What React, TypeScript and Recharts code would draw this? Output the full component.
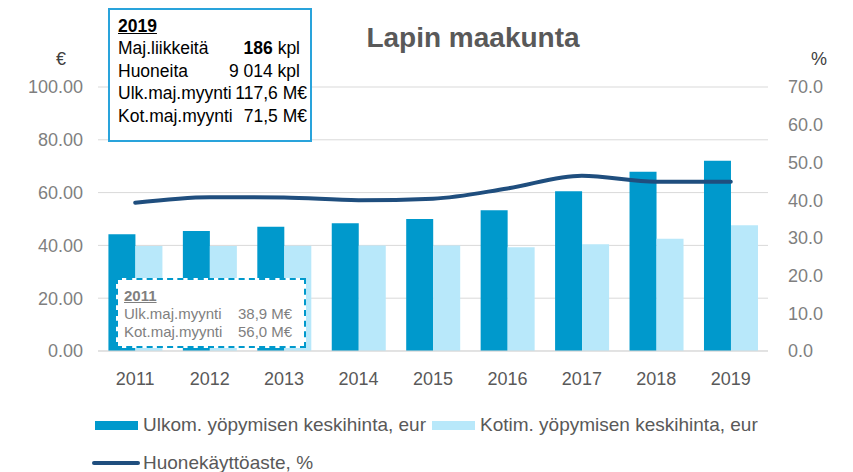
import React from "react";
import {
  ComposedChart,
  Bar,
  Line,
  XAxis,
  YAxis,
  CartesianGrid,
} from "recharts";

const years = ["2011", "2012", "2013", "2014", "2015", "2016", "2017", "2018", "2019"];
const foreignPrice = [44.2, 45.5, 47.1, 48.4, 50.0, 53.3, 60.5, 67.9, 72.1];
const domesticPrice = [39.8, 39.8, 39.9, 40.0, 40.0, 39.3, 40.4, 42.5, 47.6];
const occupancy = [39.3, 40.8, 40.7, 40.0, 40.4, 43.1, 46.5, 44.9, 44.9];

const leftTicks = [0, 20, 40, 60, 80, 100];
const rightTicks = [0, 10, 20, 30, 40, 50, 60, 70];

const seriesNames = [
  "Ulkom. yöpymisen keskihinta, eur",
  "Kotim. yöpymisen keskihinta, eur",
  "Huonekäyttöaste, %",
];

const box2019 = [
  { label: "Maj.liikkeitä", bold: "186", unit: " kpl" },
  { label: "Huoneita", bold: "", unit: "9 014 kpl" },
  { label: "Ulk.maj.myynti", bold: "", unit: "117,6 M€" },
  { label: "Kot.maj.myynti", bold: "", unit: "71,5 M€" },
];

const box2011 = [
  { label: "Ulk.maj.myynti", value: "38,9 M€" },
  { label: "Kot.maj.myynti", value: "56,0 M€" },
];

const data = years.map((year, i) => ({
  year,
  ulk: foreignPrice[i],
  kot: domesticPrice[i],
  kaytto: occupancy[i],
}));

const FONT = "'Liberation Sans', Arial, sans-serif";
const DARK = "#0099cc";
const LIGHT = "#b8e8fa";
const NAVY = "#1f4e7e";
const GRAY = "#7f7f7f";

export default function App() {
  return (
    <div
      style={{
        position: "absolute",
        left: 0,
        top: 0,
        width: 853,
        height: 472,
        background: "#fff",
        fontFamily: FONT,
        overflow: "hidden",
      }}
    >
      <ComposedChart
        width={853}
        height={472}
        data={data}
        margin={{ top: 87, right: 25, left: 38, bottom: 91 }}
        barCategoryGap="14%"
        barGap={0}
      >
        <CartesianGrid yAxisId="left" vertical={false} stroke="#d9d9d9" />
        <XAxis
          dataKey="year"
          axisLine={{ stroke: "#d9d9d9" }}
          tickLine={false}
          tickSize={0}
          tickMargin={21}
          height={30}
          tick={{ fill: "#595959", fontSize: 18, fontFamily: FONT }}
        />
        <YAxis
          yAxisId="left"
          domain={[0, 100]}
          ticks={leftTicks}
          width={60}
          axisLine={false}
          tickLine={false}
          tickSize={0}
          tickMargin={15}
          tickFormatter={(v: number) => v.toFixed(2)}
          tick={{ fill: GRAY, fontSize: 18, fontFamily: FONT }}
        />
        <YAxis
          yAxisId="right"
          orientation="right"
          domain={[0, 70]}
          ticks={rightTicks}
          width={60}
          axisLine={false}
          tickLine={false}
          tickSize={0}
          tickMargin={20}
          tickFormatter={(v: number) => v.toFixed(1)}
          tick={{ fill: GRAY, fontSize: 18, fontFamily: FONT }}
        />
        <Bar yAxisId="left" dataKey="ulk" name={seriesNames[0]} fill={DARK} isAnimationActive={false} />
        <Bar yAxisId="left" dataKey="kot" name={seriesNames[1]} fill={LIGHT} isAnimationActive={false} />
        <Line
          yAxisId="right"
          dataKey="kaytto"
          name={seriesNames[2]}
          type="monotone"
          stroke={NAVY}
          strokeWidth={4}
          strokeLinecap="round"
          dot={false}
          isAnimationActive={false}
        />
      </ComposedChart>

      {/* title and axis units */}
      <div
        style={{
          position: "absolute",
          left: 273,
          width: 400,
          top: 22,
          textAlign: "center",
          fontSize: 28,
          fontWeight: "bold",
          color: "#595959",
        }}
      >
        Lapin maakunta
      </div>
      <div style={{ position: "absolute", left: 56, top: 49, fontSize: 18, color: "#404040" }}>€</div>
      <div style={{ position: "absolute", left: 811, top: 49, fontSize: 18, color: "#404040" }}>%</div>

      {/* 2019 info box */}
      <div
        style={{
          position: "absolute",
          left: 108,
          top: 8,
          width: 200,
          height: 130,
          border: "2px solid #29a3db",
          background: "#fff",
          color: "#000",
          fontSize: 17.5,
        }}
      >
        <div
          style={{
            position: "absolute",
            left: 8,
            top: 6,
            fontWeight: "bold",
            textDecoration: "underline",
          }}
        >
          2019
        </div>
        {box2019.map((r, i) => (
          <div key={r.label} style={{ position: "absolute", left: 8, right: 0, top: 28 + i * 22.5, height: 22 }}>
            <span style={{ position: "absolute", left: 0, whiteSpace: "nowrap" }}>{r.label}</span>
            <span style={{ position: "absolute", right: i < 2 ? 10 : 3, whiteSpace: "pre" }}>
              {r.bold && <b>{r.bold}</b>}
              {r.unit}
            </span>
          </div>
        ))}
      </div>

      {/* 2011 info box */}
      <div
        style={{
          position: "absolute",
          left: 116,
          top: 278,
          width: 186,
          height: 66,
          border: "2px dashed #0099cc",
          background: "#fff",
          color: GRAY,
          fontSize: 15,
        }}
      >
        <div
          style={{
            position: "absolute",
            left: 6,
            top: 7,
            fontWeight: "bold",
            textDecoration: "underline",
          }}
        >
          2011
        </div>
        {box2011.map((r, i) => (
          <div key={r.label} style={{ position: "absolute", left: 6, top: 25 + i * 18, width: 176 }}>
            <span style={{ position: "absolute", left: 0, whiteSpace: "nowrap" }}>{r.label}</span>
            <span style={{ position: "absolute", left: 114, whiteSpace: "nowrap" }}>{r.value}</span>
          </div>
        ))}
      </div>

      {/* legend */}
      <div style={{ position: "absolute", left: 0, top: 0, fontSize: 19, color: "#595959" }}>
        <div style={{ position: "absolute", left: 95, top: 421, width: 43, height: 9, background: DARK }} />
        <div style={{ position: "absolute", left: 143, top: 414, whiteSpace: "nowrap" }}>{seriesNames[0]}</div>
        <div style={{ position: "absolute", left: 432, top: 421, width: 43, height: 9, background: LIGHT }} />
        <div style={{ position: "absolute", left: 480, top: 414, whiteSpace: "nowrap" }}>{seriesNames[1]}</div>
        <div
          style={{ position: "absolute", left: 92, top: 461, width: 48, height: 4, borderRadius: 2, background: NAVY }}
        />
        <div style={{ position: "absolute", left: 143, top: 452, whiteSpace: "nowrap" }}>{seriesNames[2]}</div>
      </div>
    </div>
  );
}
